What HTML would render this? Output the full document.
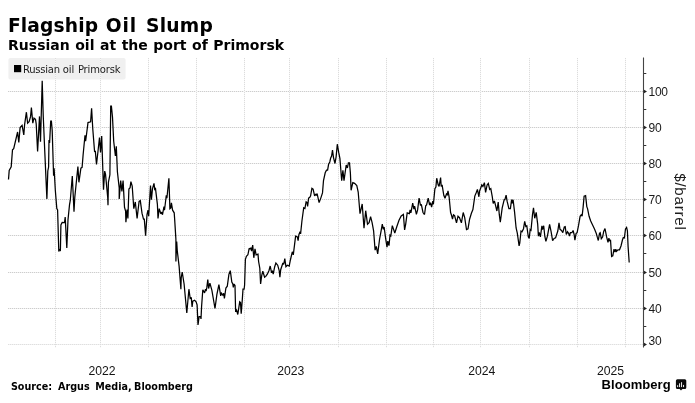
<!DOCTYPE html>
<html lang="en">
<head>
<meta charset="utf-8">
<title>Flagship Oil Slump</title>
<style>
html,body{margin:0;padding:0;background:#fff;}
body{width:695px;height:403px;overflow:hidden;}
svg{display:block;will-change:transform;}
</style>
</head>
<body>
<svg width="695" height="403" viewBox="0 0 695 403">
<rect x="0" y="0" width="695" height="403" fill="#ffffff"/>
<rect x="8.4" y="58" width="117.2" height="21.6" rx="2" ry="2" fill="#f0f0f0"/>
<g stroke="#f1f1f1" stroke-width="1" fill="none" shape-rendering="crispEdges">
<line x1="8" y1="91.5" x2="643" y2="91.5"/>
<line x1="8" y1="127.5" x2="643" y2="127.5"/>
<line x1="8" y1="163.5" x2="643" y2="163.5"/>
<line x1="8" y1="199.5" x2="643" y2="199.5"/>
<line x1="8" y1="235.5" x2="643" y2="235.5"/>
<line x1="8" y1="272.5" x2="643" y2="272.5"/>
<line x1="8" y1="308.5" x2="643" y2="308.5"/>
<line x1="8" y1="344.5" x2="643" y2="344.5"/>
</g>
<g stroke="#cdcdcd" stroke-width="1" stroke-dasharray="1 1" fill="none" shape-rendering="crispEdges">
<line x1="8" y1="91.5" x2="643" y2="91.5"/>
<line x1="8" y1="127.5" x2="643" y2="127.5"/>
<line x1="8" y1="163.5" x2="643" y2="163.5"/>
<line x1="8" y1="199.5" x2="643" y2="199.5"/>
<line x1="8" y1="235.5" x2="643" y2="235.5"/>
<line x1="8" y1="272.5" x2="643" y2="272.5"/>
<line x1="8" y1="308.5" x2="643" y2="308.5"/>
<line x1="8" y1="344.5" x2="643" y2="344.5" stroke="#dfdfdf"/>
</g>
<g stroke="#f8f8f8" stroke-width="1" fill="none" shape-rendering="crispEdges">
<line x1="55.5" y1="57.5" x2="55.5" y2="347.5"/>
<line x1="100.5" y1="57.5" x2="100.5" y2="347.5"/>
<line x1="148.5" y1="57.5" x2="148.5" y2="347.5"/>
<line x1="196.5" y1="57.5" x2="196.5" y2="347.5"/>
<line x1="244.5" y1="57.5" x2="244.5" y2="347.5"/>
<line x1="289.5" y1="57.5" x2="289.5" y2="347.5"/>
<line x1="338.5" y1="57.5" x2="338.5" y2="347.5"/>
<line x1="386.5" y1="57.5" x2="386.5" y2="347.5"/>
<line x1="433.5" y1="57.5" x2="433.5" y2="347.5"/>
<line x1="480.5" y1="57.5" x2="480.5" y2="347.5"/>
<line x1="529.5" y1="57.5" x2="529.5" y2="347.5"/>
<line x1="577.5" y1="57.5" x2="577.5" y2="347.5"/>
<line x1="625.5" y1="57.5" x2="625.5" y2="347.5"/>
</g>
<g stroke="#dcdcdc" stroke-width="1" stroke-dasharray="1 1" fill="none" shape-rendering="crispEdges">
<line x1="55.5" y1="57.5" x2="55.5" y2="347.5"/>
<line x1="100.5" y1="57.5" x2="100.5" y2="347.5"/>
<line x1="148.5" y1="57.5" x2="148.5" y2="347.5"/>
<line x1="196.5" y1="57.5" x2="196.5" y2="347.5"/>
<line x1="244.5" y1="57.5" x2="244.5" y2="347.5"/>
<line x1="289.5" y1="57.5" x2="289.5" y2="347.5"/>
<line x1="338.5" y1="57.5" x2="338.5" y2="347.5"/>
<line x1="386.5" y1="57.5" x2="386.5" y2="347.5"/>
<line x1="433.5" y1="57.5" x2="433.5" y2="347.5"/>
<line x1="480.5" y1="57.5" x2="480.5" y2="347.5"/>
<line x1="529.5" y1="57.5" x2="529.5" y2="347.5"/>
<line x1="577.5" y1="57.5" x2="577.5" y2="347.5"/>
<line x1="625.5" y1="57.5" x2="625.5" y2="347.5"/>
</g>
<line x1="643.5" y1="57.6" x2="643.5" y2="347.6" stroke="#444" stroke-width="1.1"/>
<path d="M644 89.8 L647 91.5 L644 93.2 Z" fill="#222"/>
<path d="M644 125.8 L647 127.5 L644 129.2 Z" fill="#222"/>
<path d="M644 161.8 L647 163.5 L644 165.2 Z" fill="#222"/>
<path d="M644 197.8 L647 199.5 L644 201.2 Z" fill="#222"/>
<path d="M644 233.8 L647 235.5 L644 237.2 Z" fill="#222"/>
<path d="M644 270.8 L647 272.5 L644 274.2 Z" fill="#222"/>
<path d="M644 306.8 L647 308.5 L644 310.2 Z" fill="#222"/>
<path d="M644 342.8 L647 344.5 L644 346.2 Z" fill="#222"/>
<line x1="644" y1="73.5" x2="646.3" y2="73.5" stroke="#333" stroke-width="1"/>
<line x1="644" y1="109.5" x2="646.3" y2="109.5" stroke="#333" stroke-width="1"/>
<line x1="644" y1="145.5" x2="646.3" y2="145.5" stroke="#333" stroke-width="1"/>
<line x1="644" y1="181.5" x2="646.3" y2="181.5" stroke="#333" stroke-width="1"/>
<line x1="644" y1="217.5" x2="646.3" y2="217.5" stroke="#333" stroke-width="1"/>
<line x1="644" y1="253.5" x2="646.3" y2="253.5" stroke="#333" stroke-width="1"/>
<line x1="644" y1="290.5" x2="646.3" y2="290.5" stroke="#333" stroke-width="1"/>
<line x1="644" y1="326.5" x2="646.3" y2="326.5" stroke="#333" stroke-width="1"/>
<g font-family="'Liberation Sans', sans-serif" font-size="12" fill="#1a1a1a" letter-spacing="-0.3">
<text x="648.6" y="95.8">100</text>
<text x="648.6" y="131.8">90</text>
<text x="648.6" y="167.8">80</text>
<text x="648.6" y="203.8">70</text>
<text x="648.6" y="239.8">60</text>
<text x="648.6" y="276.8">50</text>
<text x="648.6" y="312.8">40</text>
<text x="648.6" y="345.2">30</text>
</g>
<g font-family="'Liberation Sans', sans-serif" font-size="12.2" fill="#141414" text-anchor="middle">
<text x="102.1" y="375.1">2022</text>
<text x="290.7" y="375.1">2023</text>
<text x="481.7" y="375.1">2024</text>
<text x="610.5" y="375.1">2025</text>
</g>
<polyline points="8.5,179.5 9.2,170.5 11.2,166.8 12.5,149.8 13.7,148.6 17.6,132 18.8,142.5 20.1,127.6 22.1,125.3 23.8,135 24.6,124.6 26.4,112.2 27.6,123.1 29.1,121.6 30.6,116.4 31.4,107.5 32.8,123.1 34,118.2 35.5,119.4 36.2,123.8 37.6,151.4 39.5,116.4 40.5,141.7 42.2,80.7 43.2,115 44.7,150 46.9,198.9 47.8,171 48.6,167 49,140 49.6,143 50.7,121.2 51.4,121.2 52.2,130.5 53.6,175.8 54.1,168.3 55.3,190 56.8,208.6 57.6,210 58.8,251.5 59.4,249.5 60.4,250.2 60.9,225 62.2,222.4 64.5,222.5 65.2,217 66.8,248 68,219.8 69.5,204.9 70.3,200.2 72.3,176 74,211.6 74.8,197.3 77.9,166.6 78.9,182.3 80.9,168.1 82.1,167.4 83.1,155 85,135.2 85.6,141.2 86.5,134.5 88,122.6 90.6,121.8 91.6,108.4 92.8,129.3 94.6,152 95.3,150.9 96.5,164.4 98,151.3 99.5,137.5 100.5,152.4 101.7,136 103.5,189.7 104.7,171.1 105.5,174.1 107.7,197.2 108,205.3 108.4,182.3 109.9,174.8 110.7,106.2 111.4,106.2 112.5,117.4 113.7,141.2 115.4,156 116.3,146.4 117.4,171.8 119.2,188 119.2,199 120.7,180.6 121.9,191.4 123.1,180.6 124.5,207.3 125.6,211 125.9,222.2 127.1,209.5 127.9,218.4 128.9,189 130.1,187.7 130.9,181.7 132.2,186 133.8,208.7 135.3,202 137.1,218.4 139.1,201.3 140.3,200.6 142,213.2 143.5,219.2 144.3,219.2 145.6,235.6 147,214.7 148,210.2 148.7,216.2 150.5,185.6 151.4,199.8 152.5,188.6 154,183.4 154.7,189.4 155.5,188.6 157.4,204.3 158,218.4 159.2,208.7 160.7,213.2 161.7,212.5 162.5,214.7 164,206.5 164.5,210.2 166.3,195.3 166.9,198.3 168.9,178.2 169.9,208.7 170.8,208 171.4,202.8 172.6,210.2 174.2,212.8 174.7,219.9 175.9,239.3 175.9,261.6 176.7,241.5 177.3,251 179.1,266.1 180.9,289.2 181.2,278 182.2,272 184.1,284 186.8,313 188.9,289.2 190.2,298.5 191.3,298 192.1,307 192.8,301.1 194.6,300.3 196.1,301.8 197.1,304.8 198,324.9 199.1,316.7 200.6,316.7 201,319 201.6,306.3 202.8,289.9 204.6,292.9 205.5,289.2 206.1,291 206.8,287.7 207.8,279.5 208.6,288.5 209.9,283.2 211.9,290.3 215,308.5 216.9,294.4 218.9,284.7 220.7,295.9 221.4,293.2 222.8,295.1 223.7,293.3 224.4,298.5 225.9,288 227.3,286.2 228.9,274.3 230.3,270.6 231.8,282 232.8,284 233.3,287.3 234,284 235,285.5 235.6,310.8 236.6,310 237.8,314.5 239.7,301.8 240.5,302.6 241.2,313.7 242.3,299.6 243,289.2 244.1,289.2 244.6,285 245.4,259.3 246.4,256.3 247.9,254.8 249.1,248.8 250.9,248.1 251.6,251.1 252.7,245.1 253.8,257.8 255,248.8 256.1,254.8 258,254.1 258.6,261.5 259.8,268.2 260.6,283.9 261.7,275.7 262.8,271.2 264.6,277.2 265.8,276.4 267.3,274.2 269,270.5 270.2,266 271.4,271.9 272.5,271.2 273.2,274.2 274.7,266.7 275.9,263 277.7,265.2 279.2,270.5 279.9,277.2 280.7,269.7 282.9,263 283.7,264.5 284.8,258.5 285.9,266.7 287.4,265.2 289.2,266 290.4,260 292.3,251.8 293.3,254.8 295.6,236.2 297.4,236.9 298.1,240.6 298.9,234.7 300,231.7 300.6,233.9 301.9,221.2 303.7,207.8 304.9,208.5 306.1,201.8 307.1,202.6 307.6,206.3 308.6,198.1 309.8,197.4 310.6,195.9 311.9,188.4 313.1,189.2 314.6,195.9 315.6,194.4 316.5,195.1 317.1,193.6 319.1,202.6 320.8,198.1 322.5,192.9 323.5,180.5 325.2,172.8 326.5,170.2 327.6,170.2 328.6,164.3 329.8,162 330.6,158.3 331.6,156.1 332.5,150.1 333.5,157.6 335,163.5 336.1,156.8 337.3,144.2 338.7,152.4 339.9,158.3 341.7,180.7 342.9,170.2 344,180.7 346.2,165 347.4,168 348.4,162.8 349.5,162.8 350.4,173.2 351.1,190.3 352.8,182.7 354.6,183.4 356.8,185.6 358.2,192 360,213.7 362.2,204 364,228.2 365.7,210.7 367.5,224.1 369.1,222.6 370.6,216.6 372.1,222.6 373.6,230.8 375.1,250.1 376.3,246.4 377.7,253.9 379.6,239 381.1,230.8 382.3,224.1 383.3,229.3 384.1,227 385.6,238.2 387,247.2 387.8,241.2 389,245.7 390,235.2 390.8,236 392.3,225.6 394.8,233 396.7,227 399,220.3 401.2,215.9 403.4,214.4 404.6,230 405.7,224.1 407.2,212.9 409.4,213.6 410.1,209.9 410.9,212.9 412.7,203.2 413.9,209.2 414.6,206.2 416.4,214.4 417.6,209.9 419.1,198 420.4,205 421.4,204.8 423,212.5 424.5,214.5 425.7,205.8 426.6,205 428.2,198.2 429.6,205 430.5,202.6 431.6,207.1 432.8,201.2 433.4,204.3 434.9,188.6 435.9,187.1 436.7,178.2 438.2,184.9 439.1,186.4 440.6,177.5 441.2,186.4 442.1,184.9 443.8,195.3 445,198.3 446.5,193.8 447.3,194.6 448,190.9 449.1,196.8 450.6,212.5 451.6,215.5 452.5,219.2 453.5,214.7 454.6,215.5 456.5,222.9 458,216.2 459.5,217.7 461.4,222.9 463.2,212.5 464.7,217.7 466.5,229.6 468,228.9 469.6,219.2 471.4,213.2 472.9,209.5 474.8,196.1 476.3,192.4 477.4,189.4 478.9,196.8 479.6,190.9 481.1,187.1 481.8,184.9 482.9,186.4 484.4,182.7 485.6,192.4 487.1,184.9 488.3,183.4 489.7,189.4 490.8,188.6 492.3,196.8 493.2,203.5 494.4,200.9 495.3,204.3 496.9,211 498.2,202 499.3,214.7 500.3,222.1 502.2,207.9 504.2,199.7 504.9,199.7 506.1,195.2 507.1,201.2 508.9,208.6 510.4,208.6 511.6,199.7 512.4,203.4 513.1,199.7 514.6,212.4 516.1,228 517.3,233.2 519.1,245.9 519.8,242.9 521,231 522,231.7 523.5,228.7 524.7,221.3 525.8,226.5 526.8,225.8 528.3,236.9 529.2,238.4 530.2,229.5 531,230.2 532.5,214.6 533.5,207.9 534.7,218.3 536.2,212.4 537.7,224.3 538.4,236.2 539.2,232.5 540.4,236.9 541.9,225.8 542.5,229.5 543.7,225.8 544.8,236.2 545.9,241.4 547.4,236.2 549.6,224.3 551.1,231.7 552.6,240.7 554.1,238.4 555.6,237.7 557.8,231 559,222.8 560,229.3 561.5,230.4 562.8,232.6 564.3,227 565.2,226.6 566.3,234.5 567.5,231.8 568.6,233.4 569.5,236 570.4,232.7 571.9,232.7 573.1,230.5 574.2,234.9 574.9,240.1 576.1,233.4 577.1,232.7 578.6,225.2 580.1,216.3 581.2,214.8 582.1,216.3 583.1,207.4 584.1,196.2 585.6,195.7 586.8,206.6 587.6,208.8 589.1,216.3 590.6,220.8 592,223.7 594.5,229 596.3,233.5 597.3,237.2 598.3,240.5 599.5,233.4 600.2,232.7 601.3,238.7 602.6,237 603.7,231.5 605,228.5 606.5,236.4 608,242.4 608.9,238.2 609.6,241.2 610.5,239.7 611.6,256.5 612.8,255.8 614,249.1 615,252 615.8,249.1 616.5,251.3 618,249.8 619.5,249.8 621,246 622.5,239.8 623.3,237.5 624.4,237.9 625.5,229 626.6,227.5 627.4,230.8 628.1,246.8 629.2,262.5" fill="none" stroke="#000" stroke-width="1.25" stroke-linejoin="miter" stroke-miterlimit="2.5" stroke-linecap="butt"/>
<rect x="14" y="65" width="7.2" height="7.2" fill="#000"/>
<text x="23" y="73" font-family="'DejaVu Sans', 'Liberation Sans', sans-serif" font-size="10" fill="#1a1a1a"><tspan x="23" letter-spacing="-0.25">Russian </tspan><tspan x="62.7" letter-spacing="-0.1">oil </tspan><tspan x="77.9" letter-spacing="-0.15">Primorsk</tspan></text>
<text transform="translate(674.6 173.2) rotate(90)" font-family="'Liberation Sans', sans-serif" font-size="15.2" letter-spacing="0.75" fill="#1c1c1c">$/barrel</text>
<text x="7.9" y="31.5" font-family="'DejaVu Sans', 'Liberation Sans', sans-serif" font-weight="bold" font-size="18.67" fill="#000"><tspan x="7.9" letter-spacing="0.15">Flagship </tspan><tspan x="105.8" letter-spacing="0.85">Oil </tspan><tspan x="146" letter-spacing="0.25">Slump</tspan></text>
<text x="8.1" y="49.8" font-family="'DejaVu Sans', 'Liberation Sans', sans-serif" font-weight="bold" font-size="14" word-spacing="0.65" fill="#000">Russian oil at the port of Primorsk</text>
<text x="10.9" y="389.7" font-family="'DejaVu Sans', 'Liberation Sans', sans-serif" font-weight="bold" font-size="9.6" fill="#000"><tspan x="10.9">Source: </tspan><tspan x="58.1">Argus </tspan><tspan x="95.3">Media, </tspan><tspan x="134.1">Bloomberg</tspan></text>
<text x="601.6" y="389.3" font-family="'Liberation Sans', sans-serif" font-weight="bold" font-size="13" letter-spacing="0.05" fill="#000">Bloomberg</text>
<g><path d="M677.4 379.2 h7.4 a1.5 1.5 0 0 1 1.5 1.5 v6.7 a1.5 1.5 0 0 1 -1.5 1.5 h-2.4 l-1.4 1.6 l-1.4 -1.6 h-2.2 a1.5 1.5 0 0 1 -1.5 -1.5 v-6.7 a1.5 1.5 0 0 1 1.5 -1.5 z" fill="#0a0a0a"/><rect x="677.2" y="385.2" width="0.95" height="1.9" fill="#fff"/><rect x="679.1" y="383.3" width="0.95" height="3.8" fill="#fff"/><rect x="681.1" y="382.2" width="0.95" height="4.9" fill="#fff"/><rect x="683.1" y="384.9" width="0.95" height="2.2" fill="#fff"/></g>
</svg>
</body>
</html>
